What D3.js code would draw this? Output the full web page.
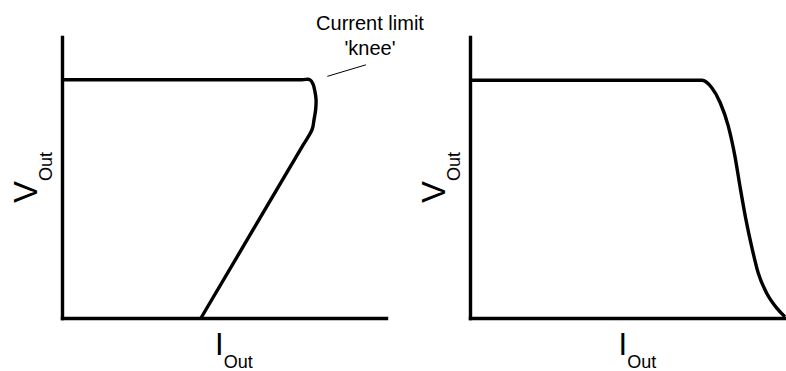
<!DOCTYPE html>
<html>
<head>
<meta charset="utf-8">
<script src="https://cdn.jsdelivr.net/npm/d3@7"></script>
<style>
  body { margin: 0; background: #fff; }
  svg { display: block; font-family: "Liberation Sans", Arial, sans-serif; }
  .axis path { stroke: #000; stroke-width: 3.4; stroke-linecap: square; }
  .curve { fill: none; stroke: #000; stroke-width: 3.4; stroke-linejoin: round; }
  .leader { stroke: #000; stroke-width: 1; }
</style>
</head>
<body>
<script>
// values in % of full scale
var foldbackCurrent = [0, 74.0, 76.5, 77.5, 78.1, 78.4, 78.3, 77.8, 77.2, 73.8, 42.9];
var foldbackVoltage = [84.8, 84.8, 84.8, 83.2, 80.4, 77.9, 74.3, 70.7, 67.1, 60.4, 0];

var softCurrent = [0, 73.7, 76.7, 79.4, 82.0, 84.1, 85.7, 87.6, 89.4, 91.5, 94.2, 97.4, 100];
var softVoltage = [84.6, 84.6, 82.0, 76.7, 68.3, 57.6, 46.9, 35.0, 25.5, 16.0, 8.8, 3.5, 0.4];

var kneeLeader = [[81.9, 86.0], [93.8, 90.1]];
var kneeLabel = ["Current limit", "'knee'"];

var width = 786, height = 371;

var svg = d3.select("body").append("svg")
  .attr("width", width)
  .attr("height", height);

var y = d3.scaleLinear().domain([0, 100]).range([318, 37]);

function panel(xRange, current, voltage, curve, vx) {
  var x = d3.scaleLinear().domain([0, 100]).range(xRange);

  svg.append("g").attr("class", "axis")
    .attr("transform", "translate(0,318)")
    .call(d3.axisBottom(x).ticks(0).tickSizeOuter(0));
  svg.append("g").attr("class", "axis")
    .attr("transform", "translate(" + xRange[0] + ",0)")
    .call(d3.axisLeft(y).ticks(0).tickSizeOuter(0));

  var line = d3.line()
    .x(function (d, i) { return x(current[i]); })
    .y(function (d, i) { return y(voltage[i]); })
    .curve(curve);

  svg.append("path")
    .datum(current)
    .attr("class", "curve")
    .attr("d", line);

  // V_Out label, rotated
  var vl = svg.append("text")
    .attr("transform", "translate(" + vx + ",152) rotate(-90)")
    .attr("text-anchor", "end");
  vl.append("tspan").attr("font-size", 33).text("V");
  vl.append("tspan").attr("font-size", 18).attr("dy", 15).text("Out");

  // I_Out label
  var cx = (xRange[0] + xRange[1]) / 2;
  var il = svg.append("text")
    .attr("x", cx - 9)
    .attr("y", 355);
  il.append("tspan").attr("font-size", 31).text("I");
  il.append("tspan").attr("font-size", 18).attr("dy", 13).text("Out");

  return x;
}

var xl = panel([62, 386], foldbackCurrent, foldbackVoltage, d3.curveCatmullRom.alpha(0.5), 37);
panel([470, 785], softCurrent, softVoltage, d3.curveMonotoneX, 445);

svg.append("line")
  .attr("class", "leader")
  .attr("x1", xl(kneeLeader[0][0]))
  .attr("y1", y(kneeLeader[0][1]))
  .attr("x2", xl(kneeLeader[1][0]))
  .attr("y2", y(kneeLeader[1][1]));

svg.selectAll(".knee-label")
  .data(kneeLabel)
  .enter().append("text")
  .attr("class", "knee-label")
  .attr("x", 370)
  .attr("y", function (d, i) { return 30 + i * 25; })
  .attr("text-anchor", "middle")
  .attr("font-size", 20)
  .text(function (d) { return d; });
</script>
</body>
</html>
